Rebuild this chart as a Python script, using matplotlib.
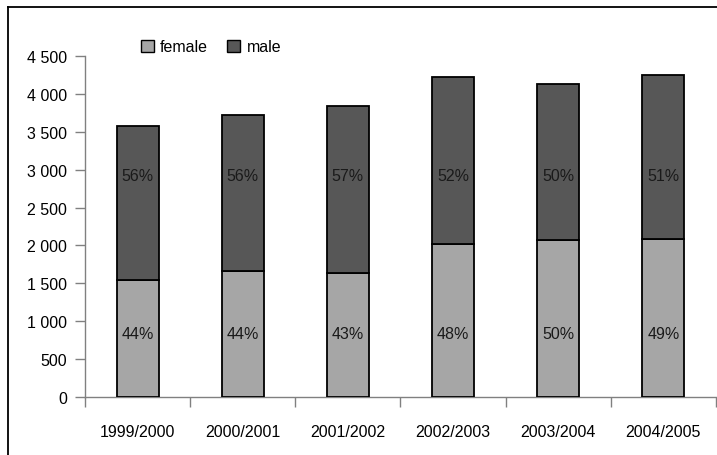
import matplotlib

matplotlib.use("Agg")
import matplotlib.pyplot as plt
from matplotlib.lines import Line2D
from matplotlib.patches import Patch
import numpy as np

years = ["1999/2000", "2000/2001", "2001/2002", "2002/2003", "2003/2004", "2004/2005"]
female = [1545, 1660, 1635, 2020, 2065, 2080]
male = [2030, 2070, 2210, 2205, 2075, 2170]
female_pct = ["44%", "44%", "43%", "48%", "50%", "49%"]
male_pct = ["56%", "56%", "57%", "52%", "50%", "51%"]
y_ticks = [0, 500, 1000, 1500, 2000, 2500, 3000, 3500, 4000, 4500]

FEMALE_COLOR = "#a6a6a6"
MALE_COLOR = "#575757"
AXIS_GRAY = "#808080"

plt.rcParams["font.family"] = ["Liberation Sans", "DejaVu Sans"]
plt.rcParams["font.size"] = 11.5

W, H = 717, 456
fig = plt.figure(figsize=(W / 100, H / 100), dpi=100)
fig.patch.set_facecolor("white")

# axes placed in pixel terms of the reference
left, right, bottom_px, top_px = 85, 716, 397.7, 57.3
ax = fig.add_axes([left / W, (H - bottom_px) / H, (right - left) / W, (bottom_px - top_px) / H])

x = np.arange(len(years))
ax.bar(x, female, width=0.4, color=FEMALE_COLOR, edgecolor="black", linewidth=1.3, zorder=3)
ax.bar(x, male, width=0.4, bottom=female, color=MALE_COLOR, edgecolor="black", linewidth=1.3, zorder=3)

for i in range(len(years)):
    ax.text(x[i], 830, female_pct[i], ha="center", va="center", color="#1a1a1a", zorder=4)
    ax.text(x[i], 2920, male_pct[i], ha="center", va="center", color="#1a1a1a", zorder=4)

ax.set_xlim(-0.5, len(years) - 0.5)
ax.set_ylim(0, 4500)
ax.set_yticks(y_ticks)
ax.set_yticklabels([f"{v:,}".replace(",", " ") for v in y_ticks])
ax.set_xticks(x)
ax.set_xticklabels(years)
ax.tick_params(axis="x", length=0, pad=20)
ax.tick_params(axis="y", length=7, width=1, color=AXIS_GRAY, pad=6)
# category boundary ticks on x axis
ax.set_xticks(np.arange(-0.5, len(years)), minor=True)
ax.tick_params(axis="x", which="minor", length=7, width=1, color=AXIS_GRAY)

for side in ("top", "right"):
    ax.spines[side].set_visible(False)
for side in ("left", "bottom"):
    ax.spines[side].set_color(AXIS_GRAY)
    ax.spines[side].set_linewidth(1)

handles = [
    Patch(facecolor=FEMALE_COLOR, edgecolor="black", linewidth=1),
    Patch(facecolor=MALE_COLOR, edgecolor="black", linewidth=1),
]
fig.legend(
    handles, ["female", "male"],
    loc="center left", bbox_to_anchor=(133 / W, 1 - 48 / H),
    ncol=2, frameon=False, handlelength=0.8, handleheight=0.8,
    handletextpad=0.4, columnspacing=1.2, borderpad=0,
)

# outer frame (clipped at right and bottom in the reference)
fig.add_artist(Line2D([8 / W, 8 / W], [0, 1 - 8 / H], color="black", linewidth=1.3))
fig.add_artist(Line2D([8 / W, 1], [1 - 8 / H, 1 - 8 / H], color="black", linewidth=1.3))

fig.savefig("out.png", dpi=100, facecolor="white")
plt.close()
